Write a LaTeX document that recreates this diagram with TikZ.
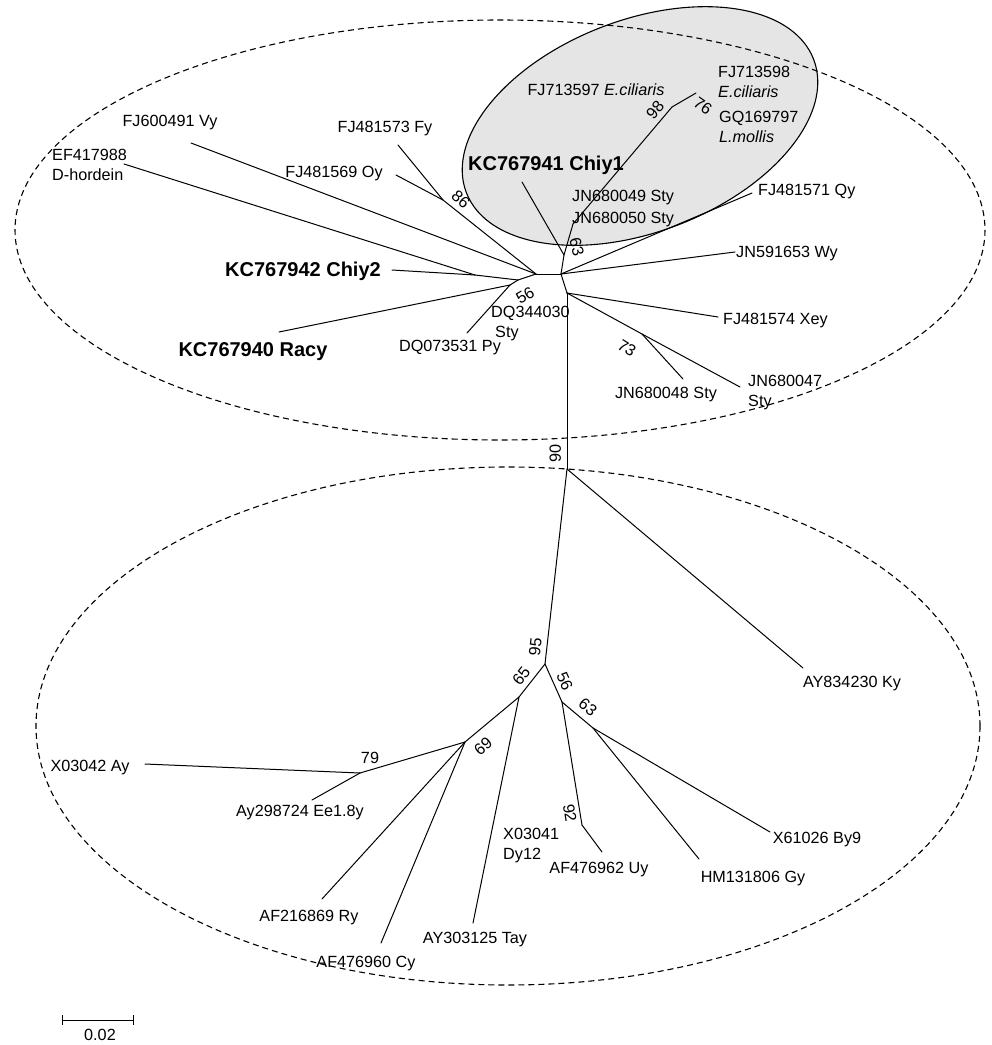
\documentclass[tikz,border=0pt]{standalone}
\usepackage{fontspec}
\setmainfont{Liberation Sans}
\definecolor{cladefill}{gray}{0.9}
\begin{document}
\begin{tikzpicture}[x=1pt,y=-1pt,
  br/.style={line width=1pt, line cap=round, line join=round},
  lbl/.style={inner sep=0pt, font=\fontsize{16.2}{20}\selectfont, text height=11.6pt, text depth=0pt},
  bld/.style={inner sep=0pt, font=\fontsize{20}{24}\selectfont\bfseries, text height=14.3pt, text depth=0pt},
  ml/.style={inner sep=0pt, font=\fontsize{16.2}{20}\selectfont, align=left, anchor=north west},
  grp/.style={line width=1.1pt, dash pattern=on 6pt off 4pt}
]
\useasboundingbox (0,0) rectangle (992,1045);

% shaded clade
\draw[fill=cladefill, line width=1.1pt, rotate around={21:(640,126)}] (640,126) ellipse [x radius=186, y radius=106];
% group ellipses
\draw[grp] (500,230) ellipse [x radius=485, y radius=210];
\draw[grp] (508,726) ellipse [x radius=472, y radius=259];

% ---------- upper tree: internal nodes ----------
\coordinate (L) at (536,274);
\coordinate (R) at (561,274);
\coordinate (A) at (518,280);
\coordinate (B) at (475,275);
\coordinate (C) at (510,285);
\coordinate (K) at (443,200);
\coordinate (M) at (564,255);
\coordinate (F) at (573,224);
\coordinate (G) at (672,107);
\coordinate (H) at (696,93);
\coordinate (D) at (567,293);
\coordinate (E) at (642,334);
% leaf ends
\coordinate (vy) at (191,143);
\coordinate (ef) at (124,164);
\coordinate (fy) at (398,145);
\coordinate (oy) at (396,175);
\coordinate (chiy2) at (392,270);
\coordinate (racy) at (279,332);
\coordinate (py) at (467,333);
\coordinate (chiy1) at (522,182);
\coordinate (qy) at (752,193);
\coordinate (wy) at (735,252);
\coordinate (xey) at (718,317);
\coordinate (s48) at (683,379);
\coordinate (s47) at (740,387);

% ---------- lower tree ----------
\coordinate (N90) at (567,469);
\coordinate (N95) at (545,664);
\coordinate (N65) at (519,697);
\coordinate (N69) at (465,742);
\coordinate (N79) at (360,773);
\coordinate (N56) at (562,702);
\coordinate (N92) at (582,825);
\coordinate (N63) at (593,728);
\coordinate (ky) at (803,668);
\coordinate (ay) at (145,764);
\coordinate (ee) at (312,800);
\coordinate (ry) at (322,899);
\coordinate (cy) at (381,943);
\coordinate (tay) at (473,923);
\coordinate (uy) at (602,852);
\coordinate (gy) at (699,859);
\coordinate (by) at (770,832);

% branches upper
\draw[br] (L) -- (R);
\draw[br] (L) -- (vy);
\draw[br] (L) -- (K);
\draw[br] (K) -- (fy);
\draw[br] (K) -- (oy);
\draw[br] (L) -- (A);
\draw[br] (A) -- (B);
\draw[br] (B) -- (ef);
\draw[br] (B) -- (chiy2);
\draw[br] (A) -- (C);
\draw[br] (C) -- (racy);
\draw[br] (C) -- (py);
\draw[br] (R) -- (M);
\draw[br] (M) -- (chiy1);
\draw[br] (M) -- (F);
\draw[br] (F) -- (G);
\draw[br] (G) -- (H);
\draw[br] (R) -- (qy);
\draw[br] (R) -- (wy);
\draw[br] (R) -- (D);
\draw[br] (D) -- (xey);
\draw[br] (D) -- (E);
\draw[br] (E) -- (s48);
\draw[br] (E) -- (s47);
\draw[br] (D) -- (N90);
% branches lower
\draw[br] (N90) -- (ky);
\draw[br] (N90) -- (N95);
\draw[br] (N95) -- (N65);
\draw[br] (N95) -- (N56);
\draw[br] (N65) -- (N69);
\draw[br] (N65) -- (tay);
\draw[br] (N69) -- (N79);
\draw[br] (N69) -- (ry);
\draw[br] (N69) -- (cy);
\draw[br] (N79) -- (ay);
\draw[br] (N79) -- (ee);
\draw[br] (N56) -- (N92);
\draw[br] (N56) -- (N63);
\draw[br] (N92) -- (uy);
\draw[br] (N63) -- (gy);
\draw[br] (N63) -- (by);

% ---------- leaf labels upper ----------
\node[lbl] (tvy) at (170,121) {FJ600491 Vy};
\node[ml] (tef) at (52,149) {EF417988\\D-hordein};
\node[lbl] (tfy) at (385,127) {FJ481573 Fy};
\node[lbl] (toy) at (334,172) {FJ481569 Oy};
\node[bld] (tchiy2) at (303,269) {KC767942 Chiy2};
\node[bld] (tracy) at (253,349) {KC767940 Racy};
\node[lbl] (tpy) at (450,346) {DQ073531 Py};
\node[ml] (tdq) at (491,306) {DQ344030\\\hspace{4pt}Sty};
\node[bld] (tchiy1) at (546,163) {KC767941 Chiy1};
\node[lbl] (tfj97) at (596,90) {FJ713597 {\itshape E.ciliaris}};
\node[ml] (tfj98) at (718,66) {FJ713598\\{\itshape E.ciliaris}};
\node[ml] (tgq) at (719,111) {GQ169797\\{\itshape L.mollis}};
\node[lbl, anchor=west] (tjn49) at (572,196) {JN680049 Sty};
\node[lbl, anchor=west] (tjn50) at (572,218) {JN680050 Sty};
\node[lbl, anchor=west] (tqy) at (758,190) {FJ481571 Qy};
\node[lbl, anchor=west] (twy) at (736,252) {JN591653 Wy};
\node[lbl, anchor=west] (txey) at (723,319) {FJ481574 Xey};
\node[lbl] (ts48) at (666,393) {JN680048 Sty};
\node[ml] (ts47) at (748,375) {JN680047\\Sty};

% ---------- leaf labels lower ----------
\node[lbl] (tky) at (852,682) {AY834230 Ky};
\node[lbl] (tay1) at (90,766) {X03042 Ay};
\node[lbl] (tee) at (300,811) {Ay298724 Ee1.8y};
\node[lbl] (try) at (309,916) {AF216869 Ry};
\node[lbl] (tcy) at (366,962) {AF476960 Cy};
\node[lbl] (ttay) at (475,938) {AY303125 Tay};
\node[ml] (tdy) at (503,828) {X03041\\Dy12};
\node[lbl] (tuy) at (599,868) {AF476962 Uy};
\node[lbl] (tgy) at (753,877) {HM131806 Gy};
\node[lbl] (tby) at (817,838) {X61026 By9};

% ---------- bootstrap values ----------
\node[lbl, rotate=-42] (b86) at (461,199) {86};
\node[lbl, rotate=30] (b56u) at (525,295) {56};
\node[lbl, rotate=-75] (b63u) at (577,247) {63};
\node[lbl, rotate=50] (b98) at (655,110) {98};
\node[lbl, rotate=-35] (b76) at (703,106) {76};
\node[lbl, rotate=-32] (b73) at (627,348) {73};
\node[lbl, rotate=90] (b90) at (555,453) {90};
\node[lbl, rotate=84] (b95) at (535,647) {95};
\node[lbl, rotate=52] (b65) at (521,676) {65};
\node[lbl, rotate=-66] (b56l) at (565,681) {56};
\node[lbl, rotate=-40] (b63l) at (588,707) {63};
\node[lbl, rotate=-81] (b92) at (570,813) {92};
\node[lbl, rotate=40] (b69) at (483,746) {69};
\node[lbl] (b79) at (370,758) {79};

% ---------- scale bar ----------
\coordinate (sb1) at (62,1020);
\coordinate (sb2) at (133,1020);
\draw[br, line cap=butt] (sb1) -- (sb2);
\draw[br, line cap=butt] ([yshift=5pt]sb1) -- ([yshift=-5pt]sb1);
\draw[br, line cap=butt] ([yshift=5pt]sb2) -- ([yshift=-5pt]sb2);
\node[lbl] (tsb) at (100,1035) {0.02};
\end{tikzpicture}
\end{document}
